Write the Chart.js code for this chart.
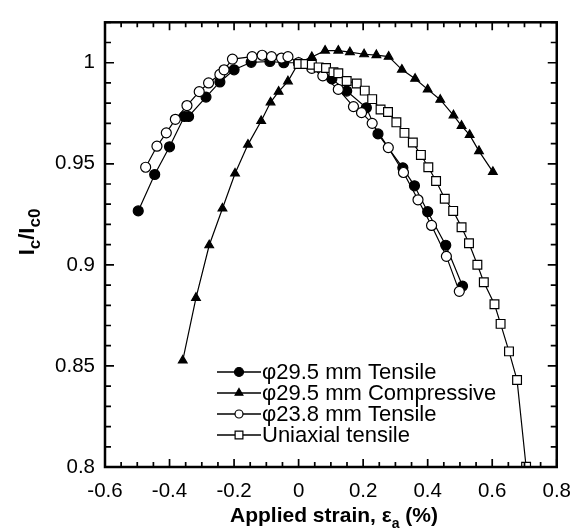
<!DOCTYPE html>
<html>
<head>
<meta charset="utf-8">
<script src="https://cdn.jsdelivr.net/npm/chart.js@4"></script>
<style>
  html, body { margin: 0; padding: 0; background: #fff; }
</style>
</head>
<body>
<canvas id="chart" width="583" height="529"></canvas>
<script>
// series names (legend order)
const seriesNames = ['φ29.5 mm Tensile', 'φ29.5 mm Compressive', 'φ23.8 mm Tensile', 'Uniaxial tensile'];

// φ29.5 mm tensile (filled circles)
const tens295X = [-0.497, -0.446, -0.4, -0.354, -0.341, -0.287, -0.244, -0.2, -0.147, -0.089, -0.046, 0, 0.103, 0.149, 0.21, 0.246, 0.323, 0.359, 0.4, 0.456, 0.508];
const tens295Y = [0.9267, 0.9447, 0.9584, 0.9734, 0.9734, 0.983, 0.9905, 0.9965, 1.0002, 1.0006, 1.0, 1.0, 0.992, 0.986, 0.9777, 0.9648, 0.948, 0.9391, 0.9263, 0.9097, 0.8895];

// φ29.5 mm compressive (filled triangles)
const comp295X = [-0.359, -0.318, -0.277, -0.236, -0.197, -0.157, -0.116, -0.087, -0.062, -0.033, 0, 0.041, 0.082, 0.123, 0.159, 0.203, 0.241, 0.279, 0.32, 0.361, 0.4, 0.439, 0.48, 0.505, 0.53, 0.559, 0.602];
const comp295Y = [0.8527, 0.8837, 0.9097, 0.9279, 0.9452, 0.9595, 0.9712, 0.9804, 0.9857, 0.9908, 1.0, 1.0028, 1.006, 1.006, 1.0052, 1.0042, 1.0038, 1.003, 0.9966, 0.9921, 0.9868, 0.9817, 0.974, 0.9688, 0.9643, 0.9563, 0.946];

// φ23.8 mm tensile (open circles)
const tens238X = [-0.474, -0.439, -0.41, -0.382, -0.346, -0.308, -0.279, -0.244, -0.231, -0.205, -0.144, -0.113, -0.084, -0.053, -0.033, 0, 0.041, 0.075, 0.123, 0.17, 0.195, 0.228, 0.278, 0.325, 0.37, 0.412, 0.458, 0.498];
const tens238Y = [0.9483, 0.9587, 0.9653, 0.972, 0.9788, 0.9857, 0.99, 0.9942, 0.9965, 1.0018, 1.003, 1.0037, 1.003, 1.0023, 1.003, 1.0, 0.9972, 0.9935, 0.9868, 0.9783, 0.9753, 0.97, 0.958, 0.9457, 0.9322, 0.9195, 0.9042, 0.8869];

// uniaxial tensile (open squares)
const uniX = [0, 0.021, 0.041, 0.062, 0.085, 0.108, 0.123, 0.149, 0.18, 0.205, 0.228, 0.254, 0.277, 0.303, 0.328, 0.354, 0.379, 0.402, 0.426, 0.453, 0.479, 0.505, 0.528, 0.554, 0.574, 0.607, 0.626, 0.652, 0.677, 0.705];
const uniY = [0.9994, 0.9994, 0.999, 0.9977, 0.9974, 0.9953, 0.9948, 0.991, 0.9897, 0.9862, 0.982, 0.9769, 0.9756, 0.9705, 0.9653, 0.9605, 0.9544, 0.9483, 0.9415, 0.9327, 0.9267, 0.9186, 0.9107, 0.9001, 0.8914, 0.8805, 0.8708, 0.8572, 0.843, 0.8001];

// tick labels
const xTicks = [-0.6, -0.4, -0.2, 0, 0.2, 0.4, 0.6, 0.8];
const yTicks = [0.8, 0.85, 0.9, 0.95, 1];

const FONT = '"Liberation Sans", Arial, Helvetica, sans-serif';

function pts(xs, ys) {
    return xs.map((x, i) => ({ x: x, y: ys[i] }));
}

// marker styles per series
const markers = [
    { pointStyle: 'circle', radius: 5, fill: '#000', legendRadius: 4.5 },
    { pointStyle: 'triangle', radius: 5, fill: '#000', legendRadius: 4.5 },
    { pointStyle: 'circle', radius: 5, fill: '#fff', legendRadius: 4 },
    { pointStyle: 'rect', radius: 6.2, fill: '#fff', legendRadius: 5.5 }
];
const seriesData = [pts(tens295X, tens295Y), pts(comp295X, comp295Y), pts(tens238X, tens238Y), pts(uniX, uniY)];
const drawOrder = [4, 3, 2, 1]; // squares on top

const datasets = seriesData.map((d, i) => ({
    label: seriesNames[i],
    data: d,
    showLine: true,
    borderColor: '#000',
    borderWidth: 1.2,
    pointStyle: markers[i].pointStyle,
    pointRadius: markers[i].radius,
    pointBackgroundColor: markers[i].fill,
    pointBorderColor: '#000',
    pointBorderWidth: 1.2,
    order: drawOrder[i]
}));

// draws text pieces with subscripts, centred on x
function drawRich(ctx, parts, x, y, size, subRatio) {
    const subSize = Math.round(size * subRatio);
    let total = 0;
    parts.forEach(p => {
        ctx.font = 'bold ' + (p.sub ? subSize : size) + 'px ' + FONT;
        p.w = ctx.measureText(p.t).width;
        total += p.w;
    });
    let cx = x - total / 2;
    parts.forEach(p => {
        ctx.font = 'bold ' + (p.sub ? subSize : size) + 'px ' + FONT;
        ctx.fillText(p.t, cx, y + (p.sub ? size * 0.28 : 0));
        cx += p.w;
    });
}

const framePlugin = {
    id: 'frame',
    afterDraw(chart) {
        const ctx = chart.ctx;
        const a = chart.chartArea;
        const xs = chart.scales.x, ys = chart.scales.y;
        ctx.save();
        ctx.strokeStyle = '#000';
        ctx.fillStyle = '#000';

        // tick marks pointing inward on all four sides
        ctx.lineWidth = 1.7;
        ctx.beginPath();
        for (let i = 0; i <= 28; i++) {
            const px = xs.getPixelForValue(-0.6 + i * 0.05);
            const len = i % 4 === 0 ? 8 : 5;
            ctx.moveTo(px, a.bottom); ctx.lineTo(px, a.bottom - len);
            ctx.moveTo(px, a.top); ctx.lineTo(px, a.top + len);
        }
        for (let i = 0; i <= 22; i++) {
            const py = ys.getPixelForValue(0.8 + i * 0.01);
            const len = i % 5 === 0 ? 9 : 6;
            ctx.moveTo(a.left, py); ctx.lineTo(a.left + len, py);
            ctx.moveTo(a.right, py); ctx.lineTo(a.right - len, py);
        }
        ctx.stroke();

        // frame
        ctx.lineWidth = 2.5;
        ctx.strokeRect(a.left, a.top, a.right - a.left, a.bottom - a.top);

        // axis titles
        ctx.textBaseline = 'alphabetic';
        ctx.textAlign = 'left';
        drawRich(ctx, [{ t: 'Applied strain, ε' }, { t: 'a', sub: true }, { t: ' (%)' }], 334, 522, 21, 0.68);

        ctx.save();
        ctx.translate(34, 232);
        ctx.rotate(-Math.PI / 2);
        drawRich(ctx, [{ t: 'I' }, { t: 'c', sub: true }, { t: '/I' }, { t: 'c0', sub: true }], 0, 0, 22, 0.75);
        ctx.restore();

        // legend
        const lx0 = 217, lx1 = 261, rowY = [372, 393, 414, 435];
        ctx.font = '22px ' + FONT;
        ctx.textBaseline = 'middle';
        seriesNames.forEach((name, i) => {
            const y = rowY[i];
            ctx.lineWidth = 1.4;
            ctx.beginPath();
            ctx.moveTo(lx0, y); ctx.lineTo(lx1, y);
            ctx.stroke();
            ctx.fillStyle = markers[i].fill;
            ctx.lineWidth = 1.2;
            Chart.helpers.drawPoint(ctx, {
                pointStyle: markers[i].pointStyle,
                radius: markers[i].legendRadius,
                rotation: 0,
                borderWidth: 1.2
            }, (lx0 + lx1) / 2, y);
            ctx.fillStyle = '#000';
            ctx.fillText(name, lx1 + 1, y + 1);
        });
        ctx.restore();
    }
};

new Chart(document.getElementById('chart'), {
    type: 'scatter',
    data: { datasets: datasets },
    options: {
        responsive: false,
        animation: false,
        layout: { padding: { top: 10, right: 23, left: 0, bottom: 0 } },
        plugins: {
            legend: { display: false },
            tooltip: { enabled: false }
        },
        scales: {
            x: {
                type: 'linear',
                min: -0.6,
                max: 0.8,
                afterBuildTicks: s => { s.ticks = xTicks.map(v => ({ value: v })); },
                afterFit: s => { s.height = 62; },
                grid: { display: false, drawTicks: false },
                border: { display: false },
                ticks: {
                    padding: 12,
                    color: '#000',
                    font: { family: FONT, size: 20.5 },
                    callback: v => String(+v.toFixed(2))
                }
            },
            y: {
                type: 'linear',
                min: 0.8,
                max: 1.02,
                afterBuildTicks: s => { s.ticks = yTicks.map(v => ({ value: v })); },
                afterFit: s => { s.width = 105; },
                grid: { display: false, drawTicks: false },
                border: { display: false },
                ticks: {
                    padding: 10,
                    color: '#000',
                    font: { family: FONT, size: 20.5 },
                    callback: v => String(+v.toFixed(2))
                }
            }
        }
    },
    plugins: [framePlugin]
});
</script>
</body>
</html>
